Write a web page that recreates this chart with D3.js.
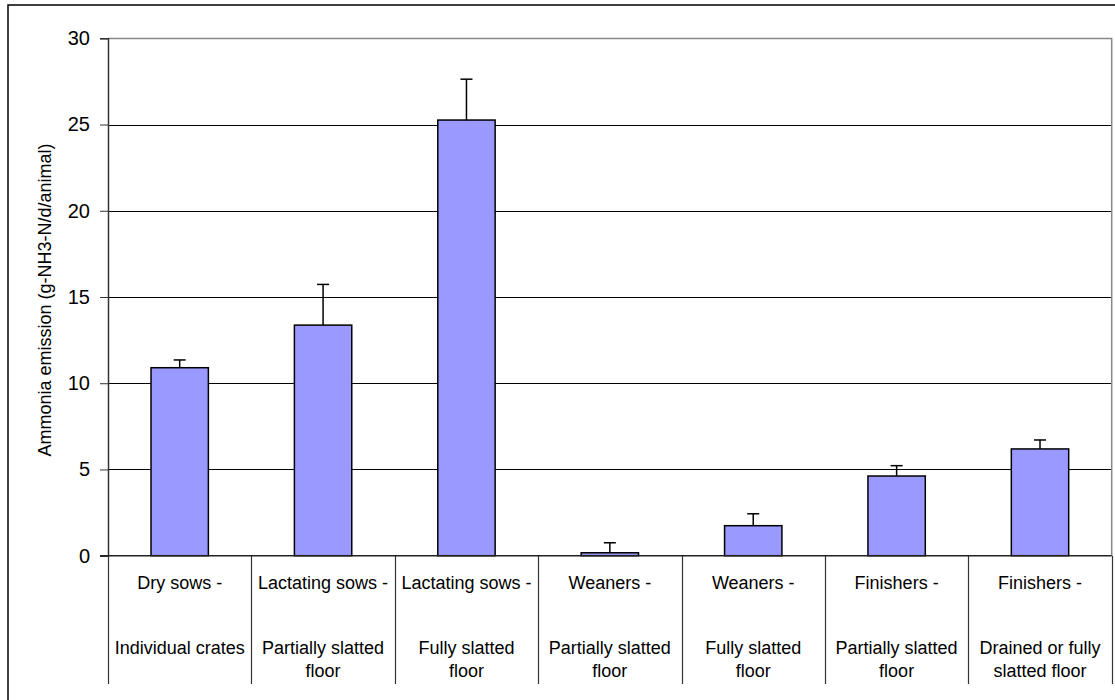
<!DOCTYPE html>
<html>
<head>
<meta charset="utf-8">
<script src="https://cdn.jsdelivr.net/npm/d3@7/dist/d3.min.js"></script>
<style>
  html, body { margin: 0; padding: 0; background: #fff; }
  svg { display: block; }
  text { font-family: "Liberation Sans", Arial, sans-serif; fill: #000; }
</style>
</head>
<body>
<svg id="chart" width="1115" height="700"></svg>
<script>
// ---- data ----
const animalGroups = ["Dry sows -", "Lactating sows -", "Lactating sows -", "Weaners -", "Weaners -", "Finishers -", "Finishers -"];
const floorTypes = [
  ["Individual crates"],
  ["Partially slatted", "floor"],
  ["Fully slatted", "floor"],
  ["Partially slatted", "floor"],
  ["Fully slatted", "floor"],
  ["Partially slatted", "floor"],
  ["Drained or fully", "slatted floor"]
];
const emissionValues = [10.9, 13.37, 25.26, 0.17, 1.74, 4.62, 6.19];
const errorValues = [0.45, 2.36, 2.37, 0.58, 0.69, 0.60, 0.52];
const yTickValues = [0, 5, 10, 15, 20, 25, 30];
const yAxisTitle = "Ammonia emission (g-NH3-N/d/animal)";

// ---- layout ----
const plotLeft = 108, plotRight = 1111.7, plotTop = 38.3, plotBottom = 555.7;
const svg = d3.select("#chart");

// outer frame
svg.append("rect")
  .attr("x", 8).attr("y", 5)
  .attr("width", 1120).attr("height", 710)
  .attr("fill", "#fff").attr("stroke", "#000").attr("stroke-width", 1.5);

const keys = animalGroups.map((d, i) => String(i));
const x = d3.scaleBand().domain(keys).range([plotLeft, plotRight])
  .paddingInner(0.6).paddingOuter(0.3).align(0.5);
const y = d3.scaleLinear().domain([0, 30]).range([plotBottom, plotTop]);

// gridlines
svg.append("g").selectAll("line")
  .data(yTickValues.filter(v => v > 0 && v < 30))
  .join("line")
  .attr("x1", plotLeft).attr("x2", plotRight)
  .attr("y1", d => Math.round(y(d)) + 0.5).attr("y2", d => Math.round(y(d)) + 0.5)
  .attr("stroke", "#000").attr("stroke-width", 1);

// top and right plot borders (gray)
svg.append("path")
  .attr("d", `M${plotLeft},${Math.round(y(30)) + 0.5}H${plotRight}V${plotBottom}`)
  .attr("fill", "none").attr("stroke", "#888").attr("stroke-width", 1.5);

// bars
const data = keys.map((k, i) => ({ k, v: emissionValues[i], e: errorValues[i] }));
svg.append("g").selectAll("rect")
  .data(data).join("rect")
  .attr("x", d => x(d.k))
  .attr("y", d => y(d.v))
  .attr("width", x.bandwidth())
  .attr("height", d => y(0) - y(d.v))
  .attr("fill", "#9999ff")
  .attr("stroke", "#000").attr("stroke-width", 1.5);

// error bars
const eb = svg.append("g").attr("stroke", "#000").attr("stroke-width", 1.5);
eb.selectAll("line.v").data(data).join("line").attr("class", "v")
  .attr("x1", d => x(d.k) + x.bandwidth() / 2).attr("x2", d => x(d.k) + x.bandwidth() / 2)
  .attr("y1", d => y(d.v)).attr("y2", d => y(d.v + d.e));
eb.selectAll("line.c").data(data).join("line").attr("class", "c")
  .attr("x1", d => x(d.k) + x.bandwidth() / 2 - 6).attr("x2", d => x(d.k) + x.bandwidth() / 2 + 6)
  .attr("y1", d => y(d.v + d.e)).attr("y2", d => y(d.v + d.e));

// y axis
const yAxis = d3.axisLeft(y).tickValues(yTickValues).tickSize(8).tickPadding(10).tickFormat(d3.format("d"));
const ya = svg.append("g").attr("transform", `translate(${plotLeft},0)`).call(yAxis);
ya.select(".domain").attr("stroke", "#333").attr("stroke-width", 1.5);
ya.selectAll(".tick line").attr("stroke", "#333").attr("stroke-width", 1);
ya.selectAll(".tick text").style("font-size", "20px").attr("fill", "#000")
  .style("font-family", "'Liberation Sans', Arial, sans-serif");

// y axis title
svg.append("text")
  .attr("transform", `translate(45,${(plotTop + plotBottom) / 2 + 3}) rotate(-90)`)
  .attr("text-anchor", "middle").attr("dominant-baseline", "central")
  .style("font-size", "18px")
  .text(yAxisTitle);

// category axis baseline
svg.append("line")
  .attr("x1", plotLeft - 8).attr("x2", plotRight)
  .attr("y1", plotBottom).attr("y2", plotBottom)
  .attr("stroke", "#222").attr("stroke-width", 1.5);

// category dividers (band boundaries)
const step = x.step();
const boundaries = keys.map(k => x(k) - step * x.paddingOuter()).concat([x(keys[keys.length - 1]) + x.bandwidth() + step * x.paddingOuter()]);
svg.append("g").selectAll("line")
  .data(boundaries).join("line")
  .attr("x1", d => Math.round(d) + 0.5).attr("x2", d => Math.round(d) + 0.5)
  .attr("y1", plotBottom).attr("y2", 684)
  .attr("stroke", "#333").attr("stroke-width", 1.2);

// category labels
const labels = svg.append("g").attr("text-anchor", "middle").style("font-size", "18px");
labels.selectAll("text.grp").data(keys).join("text").attr("class", "grp")
  .attr("x", d => x(d) + x.bandwidth() / 2)
  .attr("y", 583).attr("dominant-baseline", "central")
  .text((d, i) => animalGroups[i]);
keys.forEach((k, i) => {
  floorTypes[i].forEach((line, j) => {
    labels.append("text")
      .attr("x", x(k) + x.bandwidth() / 2)
      .attr("y", 648 + j * 23).attr("dominant-baseline", "central")
      .text(line);
  });
});
</script>
</body>
</html>
